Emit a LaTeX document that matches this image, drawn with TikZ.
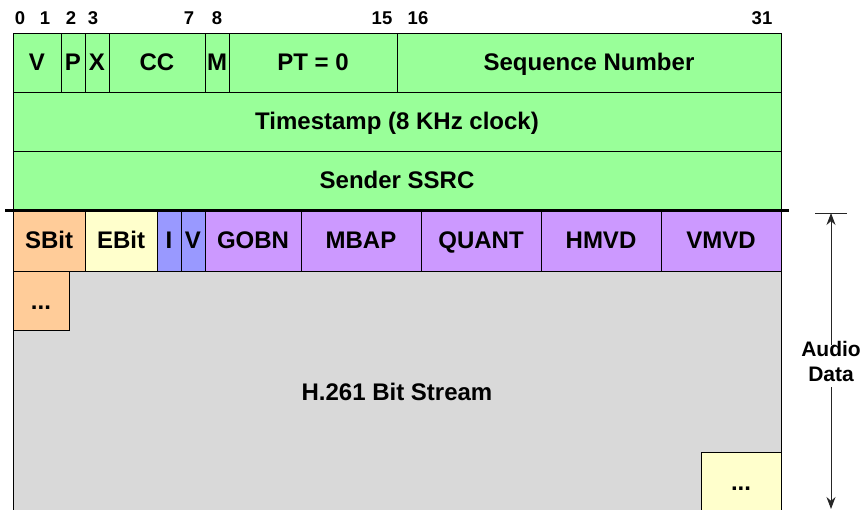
\documentclass[tikz,border=0pt]{standalone}
\usepackage{fontspec}
\setmainfont{Liberation Sans}
\usetikzlibrary{arrows.meta}
\definecolor{hdrgreen}{RGB}{153,255,153}
\definecolor{peach}{RGB}{255,204,153}
\definecolor{paleyellow}{RGB}{255,255,204}
\definecolor{periwinkle}{RGB}{153,153,255}
\definecolor{lilac}{RGB}{204,153,255}
\definecolor{streamgray}{RGB}{217,217,217}
\tikzset{
  field/.style={draw=black, line width=0.9pt, inner sep=0pt, outer sep=0pt,
    anchor=north west, font=\fontsize{24}{28}\selectfont\bfseries,
    text height=17pt, text depth=0pt},
  bitnum/.style={anchor=base, inner sep=0pt, font=\fontsize{18.5}{21}\selectfont\bfseries},
  dimline/.style={draw=black!85, line width=0.9pt},
}
\begin{document}
\begin{tikzpicture}[x=1pt,y=-1pt]
\useasboundingbox (0,0) rectangle (864,510);
\clip (0,0) rectangle (864,510);
% bit numbers
\node[bitnum] (b0) at (20,25) {0};
\node[bitnum] (b1) at (45,25) {1};
\node[bitnum] (b2) at (71,25) {2};
\node[bitnum] (b3) at (93,25) {3};
\node[bitnum] (b7) at (189,25) {7};
\node[bitnum] (b8) at (217,25) {8};
\node[bitnum] (b15) at (382,25) {15};
\node[bitnum] (b16) at (418,25) {16};
\node[bitnum] (b31) at (762,25) {31};
% RTP header row 1
\node[field, fill=hdrgreen, minimum width=48pt, minimum height=59pt] (fv) at (13,33) {V};
\node[field, fill=hdrgreen, minimum width=24pt, minimum height=59pt] (fp) at (61,33) {P};
\node[field, fill=hdrgreen, minimum width=24pt, minimum height=59pt] (fx) at (85,33) {X};
\node[field, fill=hdrgreen, minimum width=96pt, minimum height=59pt] (fcc) at (109,33) {CC};
\node[field, fill=hdrgreen, minimum width=24pt, minimum height=59pt] (fm) at (205,33) {M};
\node[field, fill=hdrgreen, minimum width=168pt, minimum height=59pt] (fpt) at (229,33) {PT = 0};
\node[field, fill=hdrgreen, minimum width=384pt, minimum height=59pt] (fseq) at (397,33) {Sequence Number};
% rows 2, 3
\node[field, fill=hdrgreen, minimum width=768pt, minimum height=59pt] (fts) at (13,92) {Timestamp (8 KHz clock)};
\node[field, fill=hdrgreen, minimum width=768pt, minimum height=59pt] (fssrc) at (13,151) {Sender SSRC};
% H.261 header
\node[field, fill=peach, minimum width=72pt, minimum height=61pt] (sbit) at (13,210) {SBit};
\node[field, fill=paleyellow, minimum width=72pt, minimum height=61pt] (ebit) at (85,210) {EBit};
\node[field, fill=periwinkle, minimum width=24pt, minimum height=61pt] (hi) at (157,210) {I};
\node[field, fill=periwinkle, minimum width=24pt, minimum height=61pt] (hv) at (181,210) {V};
\node[field, fill=lilac, minimum width=96pt, minimum height=61pt] (gobn) at (205,210) {GOBN};
\node[field, fill=lilac, minimum width=120pt, minimum height=61pt] (mbap) at (301,210) {MBAP};
\node[field, fill=lilac, minimum width=120pt, minimum height=61pt] (quant) at (421,210) {QUANT};
\node[field, fill=lilac, minimum width=120pt, minimum height=61pt] (hmvd) at (541,210) {HMVD};
\node[field, fill=lilac, minimum width=120pt, minimum height=61pt] (vmvd) at (661,210) {VMVD};
% bit stream
\node[field, fill=streamgray, minimum width=768pt, minimum height=242pt] (stream) at (13,271) {H.261 Bit Stream};
\node[field, fill=peach, minimum width=56pt, minimum height=59pt] (dots1) at (13,271) {...};
\node[field, fill=paleyellow, minimum width=80pt, minimum height=59pt] (dots2) at (701,452) {...};
% thick separator
\coordinate (sepL) at (5,210.5);
\coordinate (sepR) at (789,210.5);
\draw[line width=3.5pt] (sepL) -- (sepR);
% Audio data dimension
\node[inner sep=0pt, align=center, font=\fontsize{21}{25}\selectfont\bfseries] (audio) at (831,361) {Audio\\Data};
\coordinate (tickL) at (815,213);
\coordinate (tickR) at (847,213);
\coordinate (tickM) at (831,213);
\coordinate (botM) at (831,509);
\draw[dimline] (tickL) -- (tickR);
\draw[dimline, -{Stealth[length=12pt,width=9pt]}, shorten <=-4pt] (audio.north) -- (tickM);
\draw[dimline, -{Stealth[length=12pt,width=9pt]}, shorten <=6pt] (audio.south) -- (botM);
\end{tikzpicture}
\end{document}
